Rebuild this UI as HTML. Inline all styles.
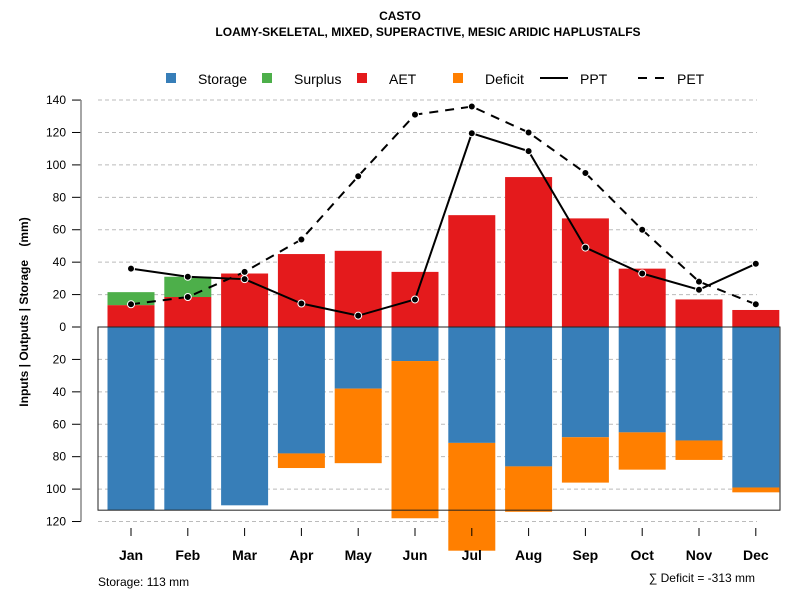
<!DOCTYPE html>
<html><head><meta charset="utf-8"><style>
body{margin:0;background:#fff;font-family:"Liberation Sans",sans-serif}
svg text{font-family:"Liberation Sans",sans-serif}
</style></head><body>
<svg id="c" width="800" height="600" xmlns="http://www.w3.org/2000/svg">
<text x="400" y="20" text-anchor="middle" font-size="12" font-weight="bold">CASTO</text>
<text x="428" y="36" text-anchor="middle" font-size="12" font-weight="bold">LOAMY-SKELETAL, MIXED, SUPERACTIVE, MESIC ARIDIC HAPLUSTALFS</text>
<g id="legend">
<rect x="166" y="73" width="10" height="10" fill="#377eb8"/>
<text x="198" y="84" font-size="14">Storage</text>
<rect x="262" y="73" width="10" height="10" fill="#4daf4a"/>
<text x="294" y="84" font-size="14">Surplus</text>
<rect x="357" y="73" width="10" height="10" fill="#e41a1c"/>
<text x="389" y="84" font-size="14">AET</text>
<rect x="453" y="73" width="10" height="10" fill="#ff7f00"/>
<text x="485" y="84" font-size="14">Deficit</text>
<line x1="540" y1="78" x2="568" y2="78" stroke="#000" stroke-width="2"/>
<text x="580" y="84" font-size="14">PPT</text>
<line x1="638" y1="78" x2="670" y2="78" stroke="#000" stroke-width="2" stroke-dasharray="9,8"/>
<text x="677" y="84" font-size="14">PET</text>
</g>
<text transform="translate(28,312) rotate(-90)" text-anchor="middle" font-size="12" font-weight="bold" style="white-space:pre">Inputs | Outputs | Storage    (mm)</text>
<text x="98" y="586" font-size="12">Storage: 113 mm</text>
<text x="755" y="582" text-anchor="end" font-size="12">∑ Deficit = -313 mm</text>
</svg>
<script>
const months=["Jan","Feb","Mar","Apr","May","Jun","Jul","Aug","Sep","Oct","Nov","Dec"];
const aet=[13.5,18.5,33,45,47,34,69,92.5,67,36,17,10.5];
const surplus=[8,12.5,0,0,0,0,0,0,0,0,0,0];
const storage=[113,113,110,78,38,21,71.5,86,68,65,70,99];
const deficit=[0,0,0,9,46,97,66.5,28,28,23,12,3];
const ppt=[36,31,29.5,14.5,7,17,119.5,108.5,49,33,23,39];
const pet=[14,18.5,34,54,93,131,136,120,95,60,28,14];
const yTicks=[140,120,100,80,60,40,20,0,-20,-40,-60,-80,-100,-120];
const storageCap=113;
const svg=document.getElementById('c');
const NS="http://www.w3.org/2000/svg";
const y=v=>327-v*1.621;
const x=i=>131+i*56.8;
const bw=47;
function mk(t,a,p){const e=document.createElementNS(NS,t);for(const k in a)e.setAttribute(k,a[k]);(p||svg).appendChild(e);return e;}
yTicks.forEach(v=>{
 const g=mk('line',{x1:98,x2:757,y1:y(v),y2:y(v),stroke:'#bbb','stroke-dasharray':'4,3'});
 
 
 const t=mk('line',{x1:72,x2:81,y1:y(v),y2:y(v),stroke:'#000'});
 
 
 const l=mk('text',{x:66,y:y(v)+4,'text-anchor':'end','font-size':12});
 l.textContent=Math.abs(v);
 
 
});
const ax=mk('line',{x1:81,x2:81,y1:y(140),y2:y(-120),stroke:'#888','stroke-width':1.5});


months.forEach((m,i)=>{
 const cx=x(i),l=cx-bw/2;
 const r1=mk('rect',{x:l,y:y(aet[i]),width:bw,height:y(0)-y(aet[i]),fill:'#e41a1c'});
 
 
 if(surplus[i]>0){const r=mk('rect',{x:l,y:y(aet[i]+surplus[i]),width:bw,height:surplus[i]*1.621,fill:'#4daf4a'});
 
 }
 const r2=mk('rect',{x:l,y:y(0),width:bw,height:storage[i]*1.621,fill:'#377eb8'});
 
 
 if(deficit[i]>0){const r=mk('rect',{x:l,y:y(-storage[i]),width:bw,height:deficit[i]*1.621,fill:'#ff7f00'});
 
 }
 const t=mk('line',{x1:cx,x2:cx,y1:528,y2:536,stroke:'#000'});
 
 
 const lb=mk('text',{x:cx,y:560,'text-anchor':'middle','font-size':14,'font-weight':'bold'});
 lb.textContent=m;
 
 
});
const box=mk('rect',{x:98,y:y(0),width:682,height:storageCap*1.621,fill:'none',stroke:'#222','stroke-width':1});


function line(arr,name,dash){
 const p=mk('polyline',{points:arr.map((v,i)=>x(i)+','+y(v)).join(' '),fill:'none',stroke:'#000','stroke-width':2,'stroke-dasharray':dash});
 
 
 arr.forEach((v,i)=>{const c=mk('circle',{cx:x(i),cy:y(v),r:3.5,fill:'#000',stroke:'#fff','stroke-width':1});
 
 });
}
line(pet,'pet','9,7');
line(ppt,'ppt','none');
</script>
</body></html>
